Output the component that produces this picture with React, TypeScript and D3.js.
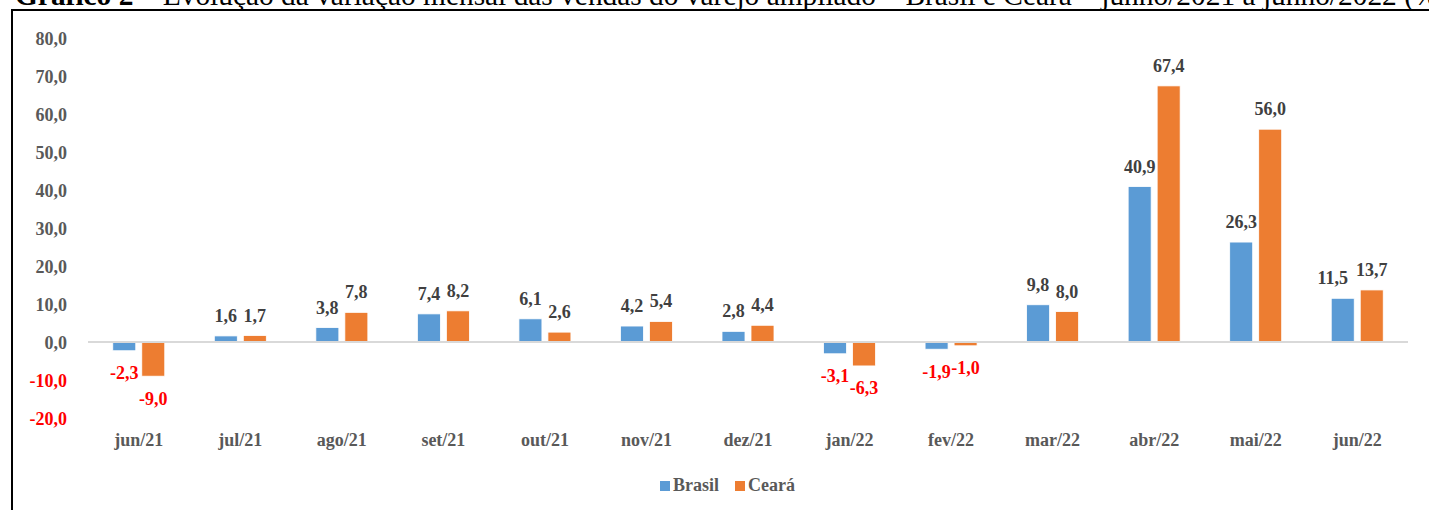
import React, { useEffect, useRef } from 'react';
import * as d3 from 'd3';

const categories = ['jun/21', 'jul/21', 'ago/21', 'set/21', 'out/21', 'nov/21', 'dez/21', 'jan/22', 'fev/22', 'mar/22', 'abr/22', 'mai/22', 'jun/22'];
const brasil = [-2.3, 1.6, 3.8, 7.4, 6.1, 4.2, 2.8, -3.1, -1.9, 9.8, 40.9, 26.3, 11.5];
const ceara = [-9.0, 1.7, 7.8, 8.2, 2.6, 5.4, 4.4, -6.3, -1.0, 8.0, 67.4, 56.0, 13.7];
const yTicks = [-20, -10, 0, 10, 20, 30, 40, 50, 60, 70, 80];
const seriesNames = ['Brasil', 'Ceará'];

const COLORS = { brasil: '#5B9BD5', ceara: '#ED7D31', axis: '#595959', label: '#404040', neg: '#FF0000', zero: '#D9D9D9' };
const FONT = '"Liberation Serif", "Times New Roman", serif';

// label moved by hand in the source so it doesn't collide with its neighbour
const brasilLabelNudge: Record<string, number> = { 'jun/22': -10 };

const fmt = (v: number) => v.toFixed(1).replace('.', ',');

export default function App() {
  const svgRef = useRef<SVGSVGElement>(null);

  useEffect(() => {
    document.body.style.margin = '0';
    if (!svgRef.current) return;
    const svg = d3.select(svgRef.current);
    svg.selectAll('*').remove();

    const W = 1429, H = 510;
    svg.append('rect').attr('width', W).attr('height', H).attr('fill', '#fff');

    // title, cut off at the top like in the source document
    const title = svg.append('text')
      .attr('x', 15).attr('y', 5)
      .attr('font-family', FONT).attr('font-size', 29.4).attr('fill', '#000');
    title.append('tspan').attr('font-weight', 'bold').text('Gráfico 2');
    title.append('tspan').text(' – Evolução da variação mensal das vendas do varejo ampliado – Brasil e Ceará – junho/2021 a junho/2022 (%)');

    // frame
    svg.append('path')
      .attr('d', `M12,${H} L12,10 L${W},10`)
      .attr('fill', 'none').attr('stroke', '#000').attr('stroke-width', 2);

    const x = d3.scaleBand<string>().domain(categories).range([88, 1408]);
    const y = d3.scaleLinear().domain([-20, 80]).range([418, 38]);
    const barW = 23, gap = 6;

    const g = svg.append('g');

    // y tick labels
    g.selectAll('.ytick').data(yTicks).enter().append('text')
      .attr('x', 67).attr('y', d => y(d) + 7)
      .attr('text-anchor', 'end')
      .attr('font-family', FONT).attr('font-size', 18).attr('font-weight', 'bold')
      .attr('fill', d => (d < 0 ? COLORS.neg : COLORS.axis))
      .text(d => fmt(d));

    const series = [
      { name: seriesNames[0], values: brasil, color: COLORS.brasil, dx: -gap / 2 - barW, nudge: brasilLabelNudge },
      { name: seriesNames[1], values: ceara, color: COLORS.ceara, dx: gap / 2, nudge: {} as Record<string, number> },
    ];

    series.forEach(s => {
      const cx = (i: number) => x(categories[i])! + x.bandwidth() / 2 + s.dx;
      g.selectAll(`.bar-${s.name}`).data(s.values).enter().append('rect')
        .attr('x', (_, i) => cx(i))
        .attr('y', d => y(Math.max(0, d)))
        .attr('width', barW)
        .attr('height', d => Math.abs(y(d) - y(0)))
        .attr('fill', s.color)
        .attr('stroke', '#fff').attr('stroke-width', 0.8);

      g.selectAll(`.lbl-${s.name}`).data(s.values).enter().append('text')
        .attr('x', (_, i) => cx(i) + barW / 2 + (s.nudge[categories[i]] || 0))
        .attr('y', d => (d >= 0 ? y(d) - 14 : y(d) + 28.5))
        .attr('text-anchor', 'middle')
        .attr('font-family', FONT).attr('font-size', 18).attr('font-weight', 'bold')
        .attr('fill', d => (d < 0 ? COLORS.neg : COLORS.label))
        .text(d => fmt(d));
    });

    // zero line
    g.append('line')
      .attr('x1', 88).attr('x2', 1408)
      .attr('y1', y(0)).attr('y2', y(0))
      .attr('stroke', COLORS.zero).attr('stroke-width', 2);

    // category labels
    g.selectAll('.xlbl').data(categories).enter().append('text')
      .attr('x', d => x(d)! + x.bandwidth() / 2)
      .attr('y', 446)
      .attr('text-anchor', 'middle')
      .attr('font-family', FONT).attr('font-size', 18).attr('font-weight', 'bold')
      .attr('fill', COLORS.axis)
      .text(d => d);

    // legend
    const legend = svg.append('g');
    const items = [
      { name: seriesNames[0], color: COLORS.brasil, x: 660 },
      { name: seriesNames[1], color: COLORS.ceara, x: 735 },
    ];
    items.forEach(it => {
      legend.append('rect').attr('x', it.x).attr('y', 481).attr('width', 10).attr('height', 10).attr('fill', it.color);
      legend.append('text')
        .attr('x', it.x + 13).attr('y', 491)
        .attr('font-family', FONT).attr('font-size', 18).attr('font-weight', 'bold')
        .attr('fill', COLORS.axis)
        .text(it.name);
    });
  }, []);

  return <svg ref={svgRef} width={1429} height={510} style={{ display: 'block' }} />;
}
